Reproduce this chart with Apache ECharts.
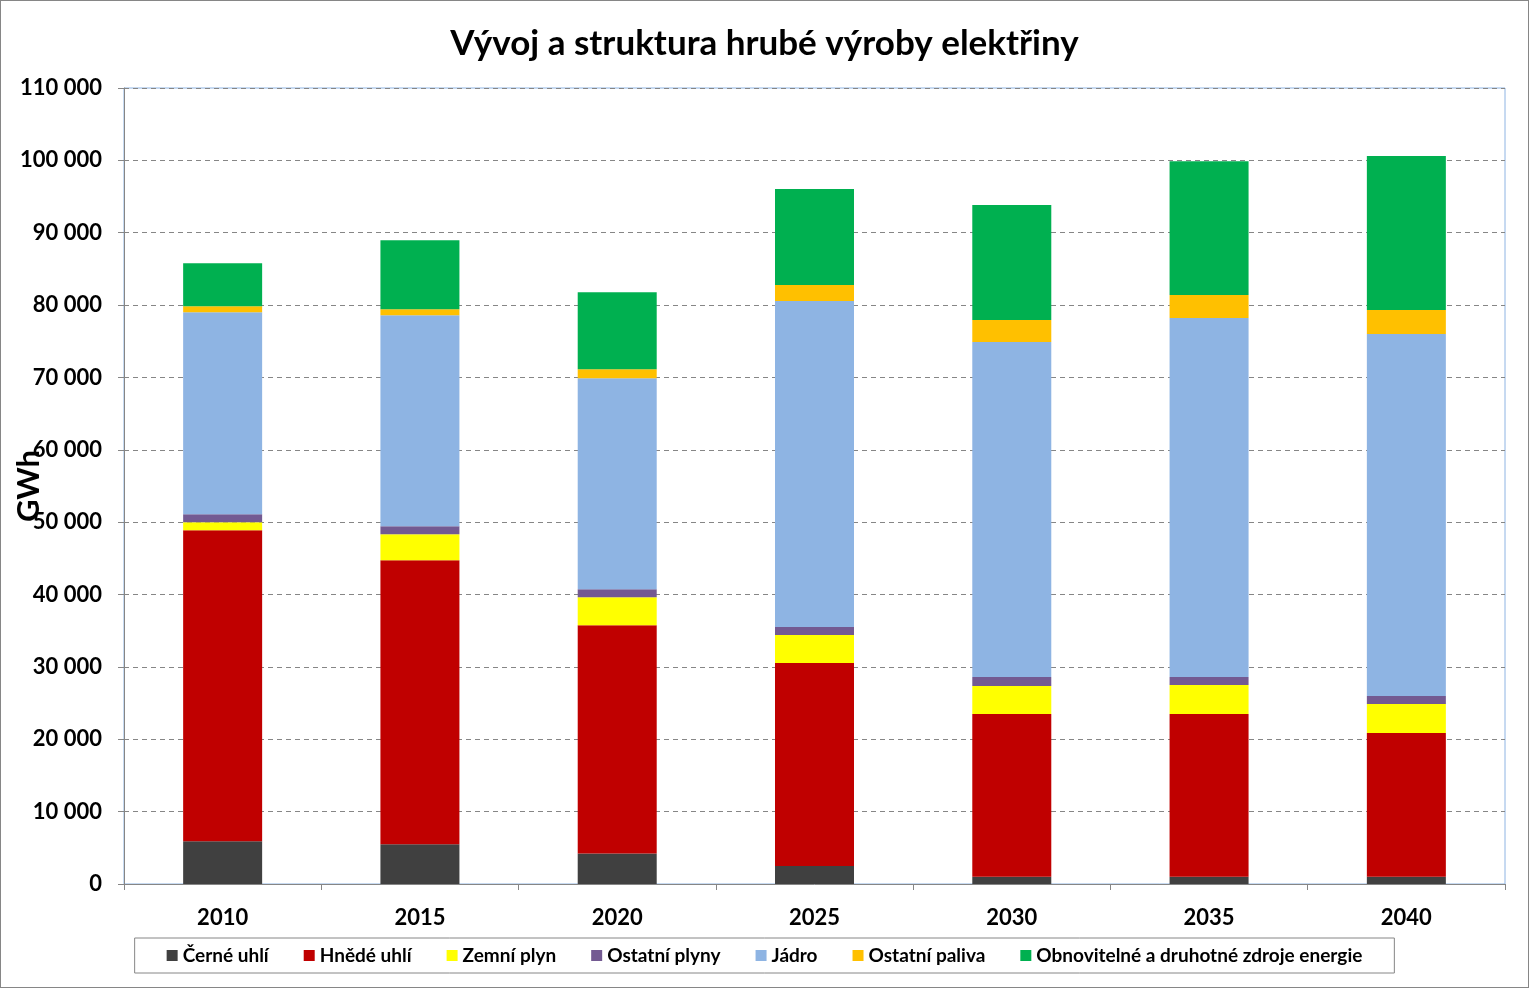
<!DOCTYPE html>
<html><head><meta charset="utf-8">
<script src="https://cdn.jsdelivr.net/npm/echarts@6/dist/echarts.min.js"></script>
<style>html,body{margin:0;padding:0;background:#fff}#c{width:1529px;height:988px;box-sizing:border-box;border:1px solid #868686}</style>
</head><body><div id="c"></div><script>
const years = ['2010', '2015', '2020', '2025', '2030', '2035', '2040'];
const cerneUhli = [5900, 5500, 4200, 2500, 1000, 1000, 1000];
const hnedeUhli = [43000, 39250, 31550, 28050, 22500, 22500, 19870];
const zemniPlyn = [1100, 3590, 3870, 3870, 3870, 4000, 4000];
const ostatniPlyny = [1100, 1100, 1100, 1100, 1240, 1100, 1100];
const jadro = [27900, 29160, 29160, 45050, 46300, 49600, 50030];
const ostatniPaliva = [830, 830, 1240, 2210, 3040, 3180, 3320];
const obnovitelne = [5940, 9535, 10640, 13270, 15890, 18500, 21280];
const yTicks = { min: 0, max: 110000, interval: 10000 };

const FONT = 'Lato, "Open Sans", sans-serif';
const seriesDefs = [
  ['Černé uhlí', cerneUhli, '#404040'],
  ['Hnědé uhlí', hnedeUhli, '#C00000'],
  ['Zemní plyn', zemniPlyn, '#FFFF00'],
  ['Ostatní plyny', ostatniPlyny, '#735A92'],
  ['Jádro', jadro, '#8EB4E3'],
  ['Ostatní paliva', ostatniPaliva, '#FFC000'],
  ['Obnovitelné a druhotné zdroje energie', obnovitelne, '#00B050']
];
const fmt = v => String(v).replace(/\B(?=(\d{3})+(?!\d))/g, ' ');

const chart = echarts.init(document.getElementById('c'));
chart.setOption({
  animation: false,
  title: {
    text: 'Vývoj a struktura hrubé výroby elektřiny',
    left: 'center', top: 20,
    textStyle: { fontFamily: FONT, fontSize: 35, fontWeight: 'bold', color: '#000' }
  },
  grid: {
    left: 123, top: 87, width: 1381, height: 796, outerBoundsMode: 'none', containLabel: false,
    show: true, borderColor: '#8EB4E3', borderWidth: 1, backgroundColor: '#fff'
  },
  legend: {
    bottom: 14, left: 'center',
    icon: 'rect', itemWidth: 11, itemHeight: 11, itemGap: 35,
    borderColor: '#868686', borderWidth: 1, padding: [8, 32],
    textStyle: { fontFamily: FONT, fontSize: 19, fontWeight: 'bold', color: '#000' },
    data: seriesDefs.map(s => s[0])
  },
  xAxis: {
    type: 'category', data: years, boundaryGap: true,
    axisLine: { lineStyle: { color: '#868686', width: 1 } },
    axisTick: { show: true, length: 6, lineStyle: { color: '#868686' } },
    axisLabel: { margin: 23, fontFamily: FONT, fontSize: 22, fontWeight: 'bold', color: '#000' }
  },
  yAxis: {
    type: 'value', min: yTicks.min, max: yTicks.max, interval: yTicks.interval,
    name: 'GWh', nameLocation: 'middle', nameRotate: 90, nameGap: 80, nameMoveOverlap: false,
    nameTextStyle: { fontFamily: FONT, fontSize: 31, fontWeight: 'bold', color: '#000' },
    axisLine: { show: true, lineStyle: { color: '#868686', width: 1 } },
    axisTick: { show: true, length: 6, lineStyle: { color: '#868686' } },
    axisLabel: { margin: 22, formatter: fmt, fontFamily: FONT, fontSize: 22, fontWeight: 'bold', color: '#000' },
    splitLine: { show: true, lineStyle: { color: '#868686', type: [5, 4], width: 1 } }
  },
  series: seriesDefs.map(s => ({
    name: s[0], type: 'bar', stack: 'total', data: s[1], barWidth: 79,
    itemStyle: { color: s[2] }
  }))
});
</script></body></html>
